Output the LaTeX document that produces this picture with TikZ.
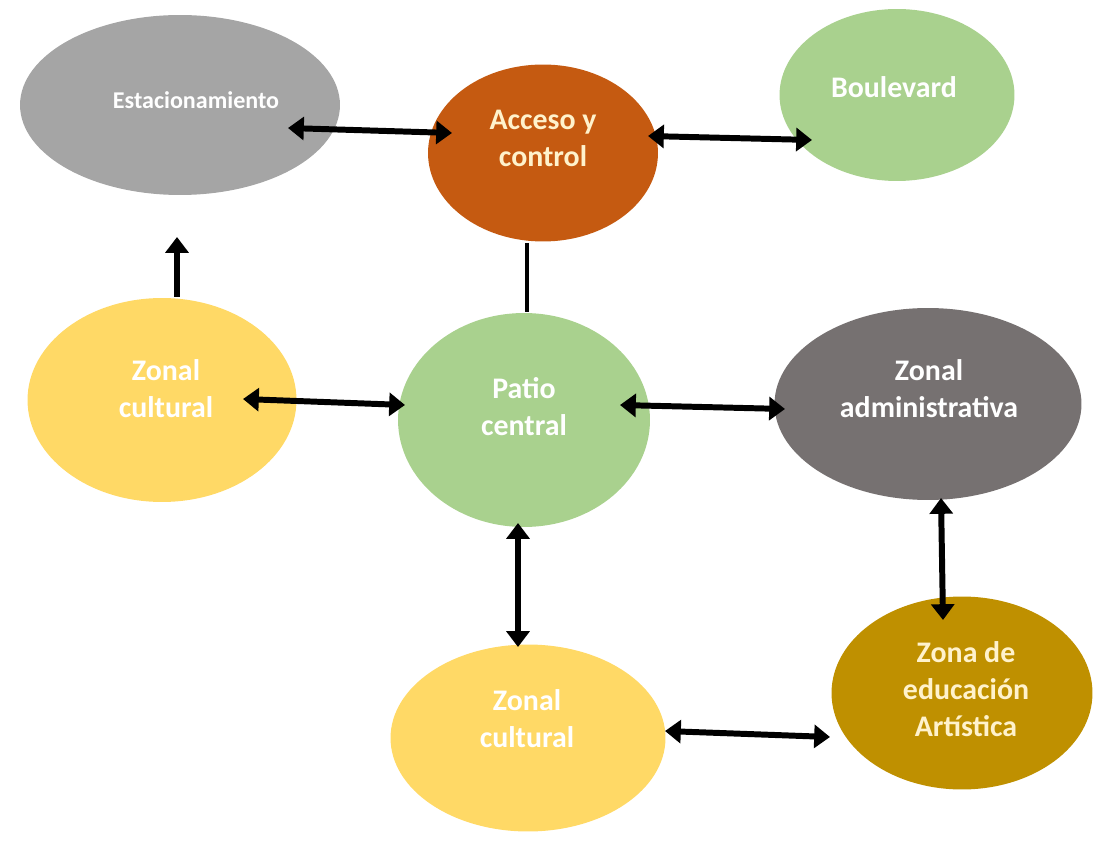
\documentclass[tikz,border=0pt]{standalone}
\usepackage{fontspec}
\setmainfont{Carlito}
\usetikzlibrary{shapes.geometric,arrows.meta,calc}
\definecolor{cgray}{HTML}{A5A5A5}
\definecolor{corange}{HTML}{C55A11}
\definecolor{cgreen}{HTML}{A9D18E}
\definecolor{cyellow}{HTML}{FFD966}
\definecolor{cdark}{HTML}{767171}
\definecolor{cgold}{HTML}{BF9000}
\definecolor{ccream}{HTML}{FFF2CC}
\tikzset{
  zone/.style={ellipse, draw=none, inner sep=0pt},
  lbl/.style={align=center, text=white, font=\bfseries\fontsize{17}{21}\selectfont},
  dbl/.style={line width=3.4pt, {Triangle[length=9pt,width=13pt]}-{Triangle[length=9pt,width=13pt]}},
  sgl/.style={line width=3.4pt, -{Triangle[length=9pt,width=13pt]}},
  plain/.style={line width=2.6pt}
}
\begin{document}
\begin{tikzpicture}[x=0.02cm,y=-0.02cm]
\useasboundingbox (0,0) rectangle (1094,847);
% zones
\node[zone, fill=cgray, minimum width=6.4cm, minimum height=3.6cm] (est) at (180,105) {};
\node[zone, fill=corange, minimum width=4.6cm, minimum height=3.54cm] (acc) at (543,153) {};
\node[zone, fill=cgreen, minimum width=4.7cm, minimum height=3.44cm] (bou) at (897,95) {};
\node[zone, fill=cyellow, minimum width=5.38cm, minimum height=4.08cm] (zcl) at (162,400) {};
\node[zone, fill=cgreen, minimum width=5.04cm, minimum height=4.28cm] (pat) at (524,420) {};
\node[zone, fill=cdark, minimum width=6.14cm, minimum height=3.84cm] (adm) at (928,404) {};
\node[zone, fill=cgold, minimum width=5.22cm, minimum height=3.86cm] (edu) at (962,693) {};
\node[zone, fill=cyellow, minimum width=5.5cm, minimum height=3.74cm] (zcb) at (528,738) {};
% labels
\node[lbl, font=\bfseries\fontsize{13.7}{16}\selectfont] (estT) at (196,100) {Estacionamiento};
\node[lbl, text=ccream] (accT) at (543,138) {Acceso y\\control};
\node[lbl] (bouT) at (894,87) {Boulevard};
\node[lbl] (zclT) at (166,389) {Zonal\\cultural};
\node[lbl] (patT) at (524,407) {Patio\\central};
\node[lbl] (admT) at (929,389) {Zonal\\administrativa};
\node[lbl, text=ccream] (eduT) at (966,689) {Zona de\\educación\\Artística};
\node[lbl] (zcbT) at (527,719) {Zonal\\cultural};
% connectors
\draw[dbl] ($(est.center)+(108,23)$) -- ($(acc.center)+(-91,-20)$);
\draw[dbl] ($(acc.center)+(105,-17)$) -- ($(bou.center)+(-85,45)$);
\draw[plain] ($(acc.center)+(-16,90)$) -- ($(pat.center)+(3,-108)$);
\draw[sgl] ($(zcl.center)+(15,-103)$) -- ($(est.center)+(-3,132)$);
\draw[dbl] ($(zcl.center)+(81,-1)$) -- ($(pat.center)+(-119,-15)$);
\draw[dbl] ($(pat.center)+(96,-15)$) -- ($(adm.center)+(-143,5)$);
\draw[dbl] ($(pat.center)+(-6,103)$) -- ($(zcb.center)+(-10,-91)$);
\draw[dbl] ($(adm.center)+(13,94)$) -- ($(edu.center)+(-19,-73)$);
\draw[dbl] ($(zcb.center)+(137,-7)$) -- ($(edu.center)+(-132,44)$);
\end{tikzpicture}
\end{document}
